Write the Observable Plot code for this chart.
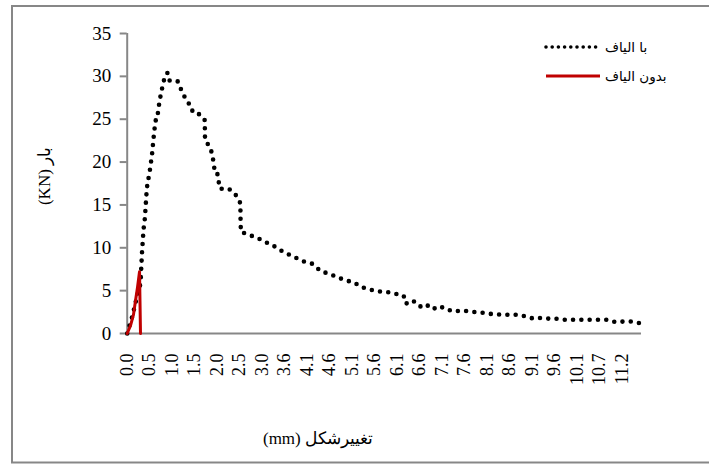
<!DOCTYPE html>
<html>
<head>
<meta charset="utf-8">
<script src="https://cdn.jsdelivr.net/npm/d3@7"></script>
<script src="https://cdn.jsdelivr.net/npm/@observablehq/plot@0.6"></script>
<style>
  html, body { margin: 0; padding: 0; background: #fff; }
  svg { display: block; }
  svg text.serif { font-family: "Liberation Serif", "Times New Roman", serif !important; }
</style>
</head>
<body>
<div id="chart"></div>
<script>
// Category tick labels on the horizontal axis (mm)
const xLabels = ["0.0","0.5","1.0","1.5","2.0","2.5","3.0","3.6","4.1","4.6","5.1","5.6","6.1","6.6","7.1","7.6","8.1","8.6","9.1","9.6","10.1","10.7","11.2"];
const labelStep = 0.5072; // mm between labelled categories
const yTicks = [0, 5, 10, 15, 20, 25, 30, 35];

// Series "با الیاف" (with fibre)
const fiberX = [0.0,0.120,0.210,0.300,0.323,0.334,0.352,0.368,0.398,0.413,0.429,0.443,0.459,0.504,0.533,0.565,0.587,0.610,0.639,0.678,0.700,0.745,0.791,0.849,0.910,0.956,1.017,1.075,1.136,1.197,1.272,1.340,1.453,1.475,1.611,1.746,1.753,1.755,1.807,1.852,1.911,1.934,1.965,2.017,2.047,2.069,2.092,2.160,2.295,2.446,2.553,2.555,2.558,2.566,2.650,2.831,3.011,3.124,3.289,3.470,3.644,3.824,3.989,4.179,4.367,4.554,4.744,4.931,5.105,5.293,5.496,5.684,5.873,6.061,6.235,6.287,6.416,6.551,6.641,6.836,6.965,7.116,7.229,7.364,7.552,7.717,7.868,8.117,8.268,8.471,8.620,8.846,8.998,9.172,9.359,9.524,9.714,9.885,10.075,10.263,10.450,10.653,10.843,11.015,11.205,11.370,11.557];
const fiberY = [0.0,2.10,4.08,5.83,8.28,9.45,10.85,12.13,13.42,14.58,15.87,16.92,17.50,18.78,19.83,21.12,22.40,23.57,24.85,24.97,26.13,27.53,28.70,29.98,30.42,29.52,29.52,29.52,29.44,28.67,27.85,27.10,26.48,25.82,25.63,24.97,23.77,22.52,22.20,21.82,21.08,20.42,19.29,19.22,18.17,17.54,16.88,16.88,16.88,16.18,15.20,14.04,12.80,11.82,11.70,11.35,10.97,10.65,10.27,9.68,9.22,8.79,8.40,8.13,7.27,6.97,6.57,6.18,5.99,5.40,5.10,4.90,4.82,4.63,4.40,3.47,3.85,3.54,3.00,3.35,2.80,3.07,2.80,2.57,2.68,2.57,2.49,2.37,2.22,2.22,2.18,2.18,1.98,1.72,1.83,1.72,1.72,1.60,1.60,1.60,1.60,1.60,1.60,1.32,1.40,1.40,1.20];

// Series "بدون الیاف" (without fibre)
const plainX = [0.0,0.075,0.142,0.188,0.233,0.278,0.300];
const plainY = [0.0,0.93,2.20,3.85,5.40,7.20,0.0];

const seriesNames = ["با الیاف", "بدون الیاف"];
const seriesColors = ["#000000", "#C00000"];

const fiber = fiberX.map((x, i) => ({x, y: fiberY[i]}));
const plain = plainX.map((x, i) => ({x, y: plainY[i]}));
const xTickValues = xLabels.map((_, i) => i * labelStep);

const gray = "#878787";
const serif = "'Liberation Serif', 'Times New Roman', serif";

const chart = Plot.plot({
  width: 709,
  height: 464,
  marginLeft: 126.7,
  marginRight: 68,
  marginTop: 33,
  marginBottom: 131,
  style: {fontFamily: serif, fontSize: "18px", color: "#000", background: "#fff"},
  x: {domain: [0, 11.6]},
  y: {domain: [0, 35]},
  marks: [
    Plot.axisY({ticks: yTicks, tickSize: 7, tickPadding: 9, stroke: gray, strokeWidth: 2, strokeOpacity: 1, fontSize: 19, label: null}),
    Plot.axisX({ticks: xTickValues, tickFormat: (d, i) => xLabels[i], tickRotate: -90, tickSize: 0, tickPadding: 20, fontSize: 18, label: null}),
    Plot.ruleX([0], {stroke: gray, strokeWidth: 2}),
    Plot.ruleY([0], {stroke: gray, strokeWidth: 2}),
    Plot.line(fiber, {x: "x", y: "y", stroke: seriesColors[0], strokeWidth: 4.6, strokeDasharray: "0,8.3", strokeLinecap: "round", strokeLinejoin: "round"}),
    Plot.line(plain, {x: "x", y: "y", stroke: seriesColors[1], strokeWidth: 3, strokeLinejoin: "round"})
  ]
});

const svg = d3.select(chart);
svg.selectAll("text").classed("serif", true);
// outer frame
svg.append("rect").attr("x", 12).attr("y", 6).attr("width", 720).attr("height", 456.5)
  .attr("fill", "none").attr("stroke", gray).attr("stroke-width", 2);
// axis titles
svg.append("text").attr("class", "serif").attr("transform", "translate(44,176) rotate(-90)")
  .attr("text-anchor", "middle").attr("dominant-baseline", "central")
  .style("font-size", "17px").text("(KN) بار");
svg.append("text").attr("class", "serif").attr("x", 318).attr("y", 438)
  .attr("text-anchor", "middle").attr("dominant-baseline", "central")
  .style("font-size", "17px").text("(mm) تغییرشکل");
// legend
const legendRows = [47, 76];
seriesNames.forEach((name, i) => {
  const y = legendRows[i];
  const ln = svg.append("line").attr("x1", 546).attr("x2", 600).attr("y1", y).attr("y2", y)
    .attr("stroke", seriesColors[i]);
  if (i === 0) ln.attr("stroke-width", 3.6).attr("stroke-dasharray", "0,6.2").attr("stroke-linecap", "round");
  else ln.attr("stroke-width", 3);
  svg.append("text").attr("x", 605).attr("y", y).attr("dominant-baseline", "central")
    .attr("text-anchor", "start")
    .style("font-family", "'DejaVu Sans', sans-serif").style("font-size", "13.5px")
    .text(name);
});

document.getElementById("chart").appendChild(chart);
</script>
</body>
</html>
